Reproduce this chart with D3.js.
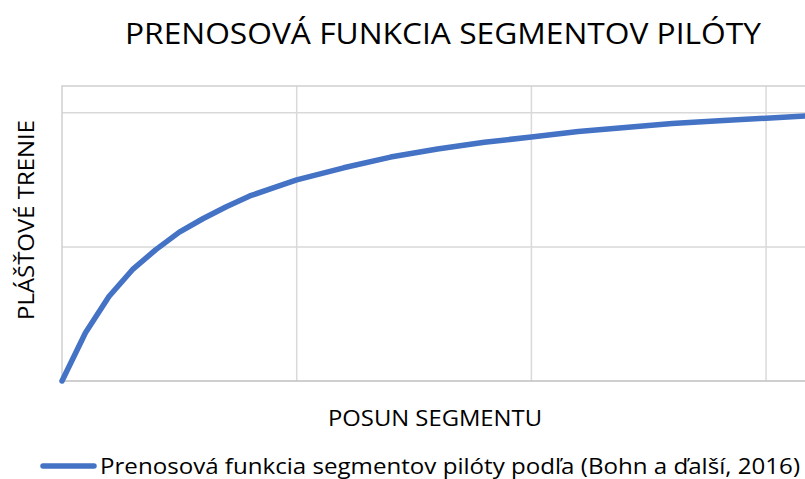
<!DOCTYPE html>
<html>
<head>
<meta charset="utf-8">
<script src="https://cdn.jsdelivr.net/npm/d3@7"></script>
<style>
  body { margin: 0; background: #fff; }
  text { font-family: "Open Sans", sans-serif; fill: #000; }
</style>
</head>
<body>
<div class="chart"></div>
<script>
// Configuration
var width = 805;
var height = 479;

// data
var posun = [0, 0.1, 0.2, 0.3, 0.4, 0.5, 0.6, 0.7, 0.8, 0.9, 1.0, 1.2, 1.4, 1.6, 1.8, 2.0, 2.2, 2.4, 2.6, 2.8, 3.0, 3.2];
var trenie = [0, 0.36, 0.63, 0.83, 0.98, 1.11, 1.21, 1.30, 1.38, 1.44, 1.50, 1.59, 1.67, 1.73, 1.78, 1.82, 1.86, 1.89, 1.92, 1.94, 1.96, 1.98];
var xTicks = [1, 2, 3];
var yTicks = [1, 2];

var title = "PRENOSOVÁ FUNKCIA SEGMENTOV PILÓTY";
var xTitle = "POSUN SEGMENTU";
var yTitle = "PLÁŠŤOVÉ TRENIE";
var seriesName = "Prenosová funkcia segmentov pilóty podľa (Bohn a ďalší, 2016)";

var lineColor = "#4472c4";

var svg = d3.select(".chart").append("svg")
    .attr("width", width)
    .attr("height", height);

// scales
var x = d3.scaleLinear().domain([0, 3.2]).range([62, 813]);
var y = d3.scaleLinear().domain([0, 2.2]).range([381, 86]);

// gridlines
svg.selectAll(".vgrid")
    .data(xTicks)
    .enter().append("line")
    .attr("x1", d => x(d)).attr("x2", d => x(d))
    .attr("y1", y(2.2)).attr("y2", y(0))
    .attr("stroke", "#d9d9d9")
    .attr("stroke-width", 1.5);

svg.selectAll(".hgrid")
    .data(yTicks)
    .enter().append("line")
    .attr("x1", x(0)).attr("x2", width)
    .attr("y1", d => y(d)).attr("y2", d => y(d))
    .attr("stroke", "#d9d9d9")
    .attr("stroke-width", 1.5);

// plot border (top + left) and x axis
svg.append("path")
    .attr("d", "M" + width + "," + y(2.2) + "H" + x(0) + "V" + y(0))
    .attr("fill", "none")
    .attr("stroke", "#cfcfcf")
    .attr("stroke-width", 1.5);

svg.append("line")
    .attr("x1", x(0)).attr("x2", width)
    .attr("y1", y(0)).attr("y2", y(0))
    .attr("stroke", "#bfbfbf")
    .attr("stroke-width", 1.5);

// curve
var line = d3.line()
    .x((d, i) => x(posun[i]))
    .y(d => y(d));

svg.append("path")
    .datum(trenie)
    .attr("d", line)
    .attr("fill", "none")
    .attr("stroke", lineColor)
    .attr("stroke-width", 5.5)
    .attr("stroke-linejoin", "round")
    .attr("stroke-linecap", "round");

// titles (widths fitted to the reference)
svg.append("text")
    .attr("x", 443).attr("y", 44)
    .attr("text-anchor", "middle")
    .style("font-size", "30px")
    .attr("textLength", 636)
    .attr("lengthAdjust", "spacingAndGlyphs")
    .text(title);

svg.append("text")
    .attr("x", 435).attr("y", 426)
    .attr("text-anchor", "middle")
    .style("font-size", "21px")
    .attr("textLength", 214)
    .attr("lengthAdjust", "spacingAndGlyphs")
    .text(xTitle);

svg.append("text")
    .attr("transform", "translate(34,220) rotate(-90)")
    .attr("text-anchor", "middle")
    .style("font-size", "22px")
    .attr("textLength", 200)
    .attr("lengthAdjust", "spacingAndGlyphs")
    .text(yTitle);

// legend
svg.append("line")
    .attr("x1", 43).attr("x2", 94)
    .attr("y1", 466).attr("y2", 466)
    .attr("stroke", lineColor)
    .attr("stroke-width", 5.5)
    .attr("stroke-linecap", "round");

svg.append("text")
    .attr("x", 100).attr("y", 474)
    .style("font-size", "22px")
    .attr("textLength", 700)
    .attr("lengthAdjust", "spacingAndGlyphs")
    .text(seriesName);
</script>
</body>
</html>
